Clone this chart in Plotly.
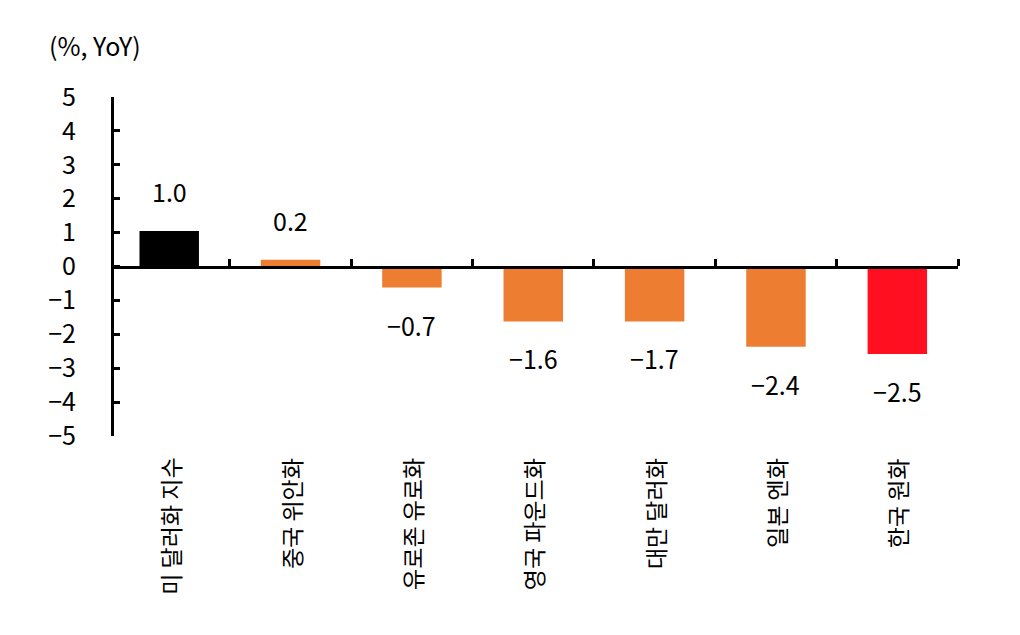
import plotly.graph_objects as go

categories = ["미 달러화 지수", "중국 위안화", "유로존 유로화", "영국 파운드화", "대만 달러화", "일본 엔화", "한국 원화"]
bar_values = [1.05, 0.2, -0.62, -1.62, -1.62, -2.37, -2.58]
value_labels = ["1.0", "0.2", "−0.7", "−1.6", "−1.7", "−2.4", "−2.5"]
bar_colors = ["#000000", "#ED7D31", "#ED7D31", "#ED7D31", "#ED7D31", "#ED7D31", "#FF0F1F"]
y_ticks = [5, 4, 3, 2, 1, 0, -1, -2, -3, -4, -5]
y_tick_text = [str(v).replace("-", "−") for v in y_ticks]

FONT = "Noto Sans CJK KR"
FS = 25

fig = go.Figure()
fig.add_trace(go.Bar(
    x=categories, y=bar_values, marker=dict(color=bar_colors, line=dict(width=0)),
    width=0.49, showlegend=False, hoverinfo="skip"))

for c, v, t in zip(categories, bar_values, value_labels):
    fig.add_annotation(x=c, y=v, xref="x", yref="y", text=t, showarrow=False,
                       yanchor="middle", yshift=40 if v >= 0 else -37,
                       font=dict(family=FONT, size=FS, color="#000000"))

for c in categories:
    fig.add_annotation(x=c, y=-5, xref="x", yref="y", text=c, showarrow=False,
                       textangle=-90, yanchor="top", xanchor="center", yshift=-20,
                       font=dict(family=FONT, size=23, color="#000000"))

fig.add_annotation(x=-0.079, y=1.153, xref="paper", yref="paper", text="(%, YoY)",
                   showarrow=False, xanchor="left", yanchor="middle",
                   font=dict(family=FONT, size=FS, color="#000000"))

fig.update_layout(
    width=1020, height=635,
    margin=dict(l=106, r=70, t=89, b=207),
    paper_bgcolor="white", plot_bgcolor="white",
    font=dict(family=FONT, size=FS, color="#000000"),
    xaxis=dict(type="category", anchor="free", position=0.5, side="top",
               showline=True, linecolor="#000000", linewidth=3,
               ticks="outside", tickson="boundaries", ticklen=7, tickwidth=3, tickcolor="#000000",
               showticklabels=False, showgrid=False, zeroline=False,
               range=[-0.455, len(categories) - 0.5]),
    yaxis=dict(range=[-5, 5], tickvals=y_ticks, ticktext=y_tick_text,
               showline=True, linecolor="#000000", linewidth=3,
               ticks="inside", ticklen=6, tickwidth=3, tickcolor="#000000",
               showgrid=False, zeroline=False, ticklabelstandoff=30,
               tickfont=dict(family=FONT, size=FS, color="#000000")),
)

fig.write_html("out.html")
